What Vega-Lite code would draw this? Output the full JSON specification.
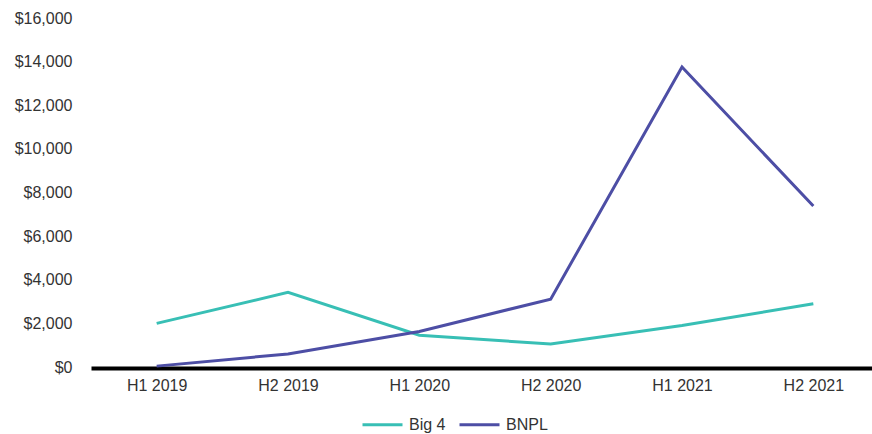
{
  "$schema": "https://vega.github.io/schema/vega-lite/v6.json",
  "width": 788,
  "height": 349,
  "autosize": {"type": "none"},
  "padding": {"left": 91, "top": 18, "right": 0, "bottom": 67},
  "background": "white",
  "config": {
    "view": {"stroke": null},
    "font": "Liberation Sans",
    "axis": {"labelFont": "Liberation Sans", "labelFontSize": 16, "labelColor": "#333333"},
    "legend": {"labelFont": "Liberation Sans", "labelFontSize": 16, "labelColor": "#333333"}
  },
  "data": {
    "values": [
      {"period": "H1 2019", "series": "Big 4", "value": 2000},
      {"period": "H2 2019", "series": "Big 4", "value": 3420},
      {"period": "H1 2020", "series": "Big 4", "value": 1460},
      {"period": "H2 2020", "series": "Big 4", "value": 1050},
      {"period": "H1 2021", "series": "Big 4", "value": 1900},
      {"period": "H2 2021", "series": "Big 4", "value": 2900},
      {"period": "H1 2019", "series": "BNPL", "value": 40},
      {"period": "H2 2019", "series": "BNPL", "value": 600},
      {"period": "H1 2020", "series": "BNPL", "value": 1630},
      {"period": "H2 2020", "series": "BNPL", "value": 3110},
      {"period": "H1 2021", "series": "BNPL", "value": 13750},
      {"period": "H2 2021", "series": "BNPL", "value": 7380}
    ]
  },
  "mark": {"type": "line", "strokeWidth": 3, "strokeJoin": "miter", "clip": false},
  "encoding": {
    "x": {
      "field": "period",
      "type": "nominal",
      "sort": null,
      "title": null,
      "scale": {"type": "point", "padding": 0.5},
      "axis": {
        "labelAngle": 0,
        "ticks": false,
        "domainColor": "#000000",
        "domainWidth": 4,
        "labelPadding": 9,
        "offset": 1
      }
    },
    "y": {
      "field": "value",
      "type": "quantitative",
      "title": null,
      "scale": {"domain": [0, 16000], "nice": false},
      "axis": {
        "values": [0, 2000, 4000, 6000, 8000, 10000, 12000, 14000, 16000],
        "format": "$,.0f",
        "grid": false,
        "domain": false,
        "ticks": false,
        "labelPadding": 19
      }
    },
    "color": {
      "field": "series",
      "type": "nominal",
      "title": null,
      "scale": {"domain": ["Big 4", "BNPL"], "range": ["#38BFB5", "#4D4EA5"]},
      "legend": {
        "orient": "none",
        "direction": "horizontal",
        "legendX": 270,
        "legendY": 385,
        "symbolType": "stroke",
        "symbolSize": 1600,
        "symbolStrokeWidth": 3,
        "labelOffset": 5,
        "columnPadding": 7
      }
    }
  }
}
